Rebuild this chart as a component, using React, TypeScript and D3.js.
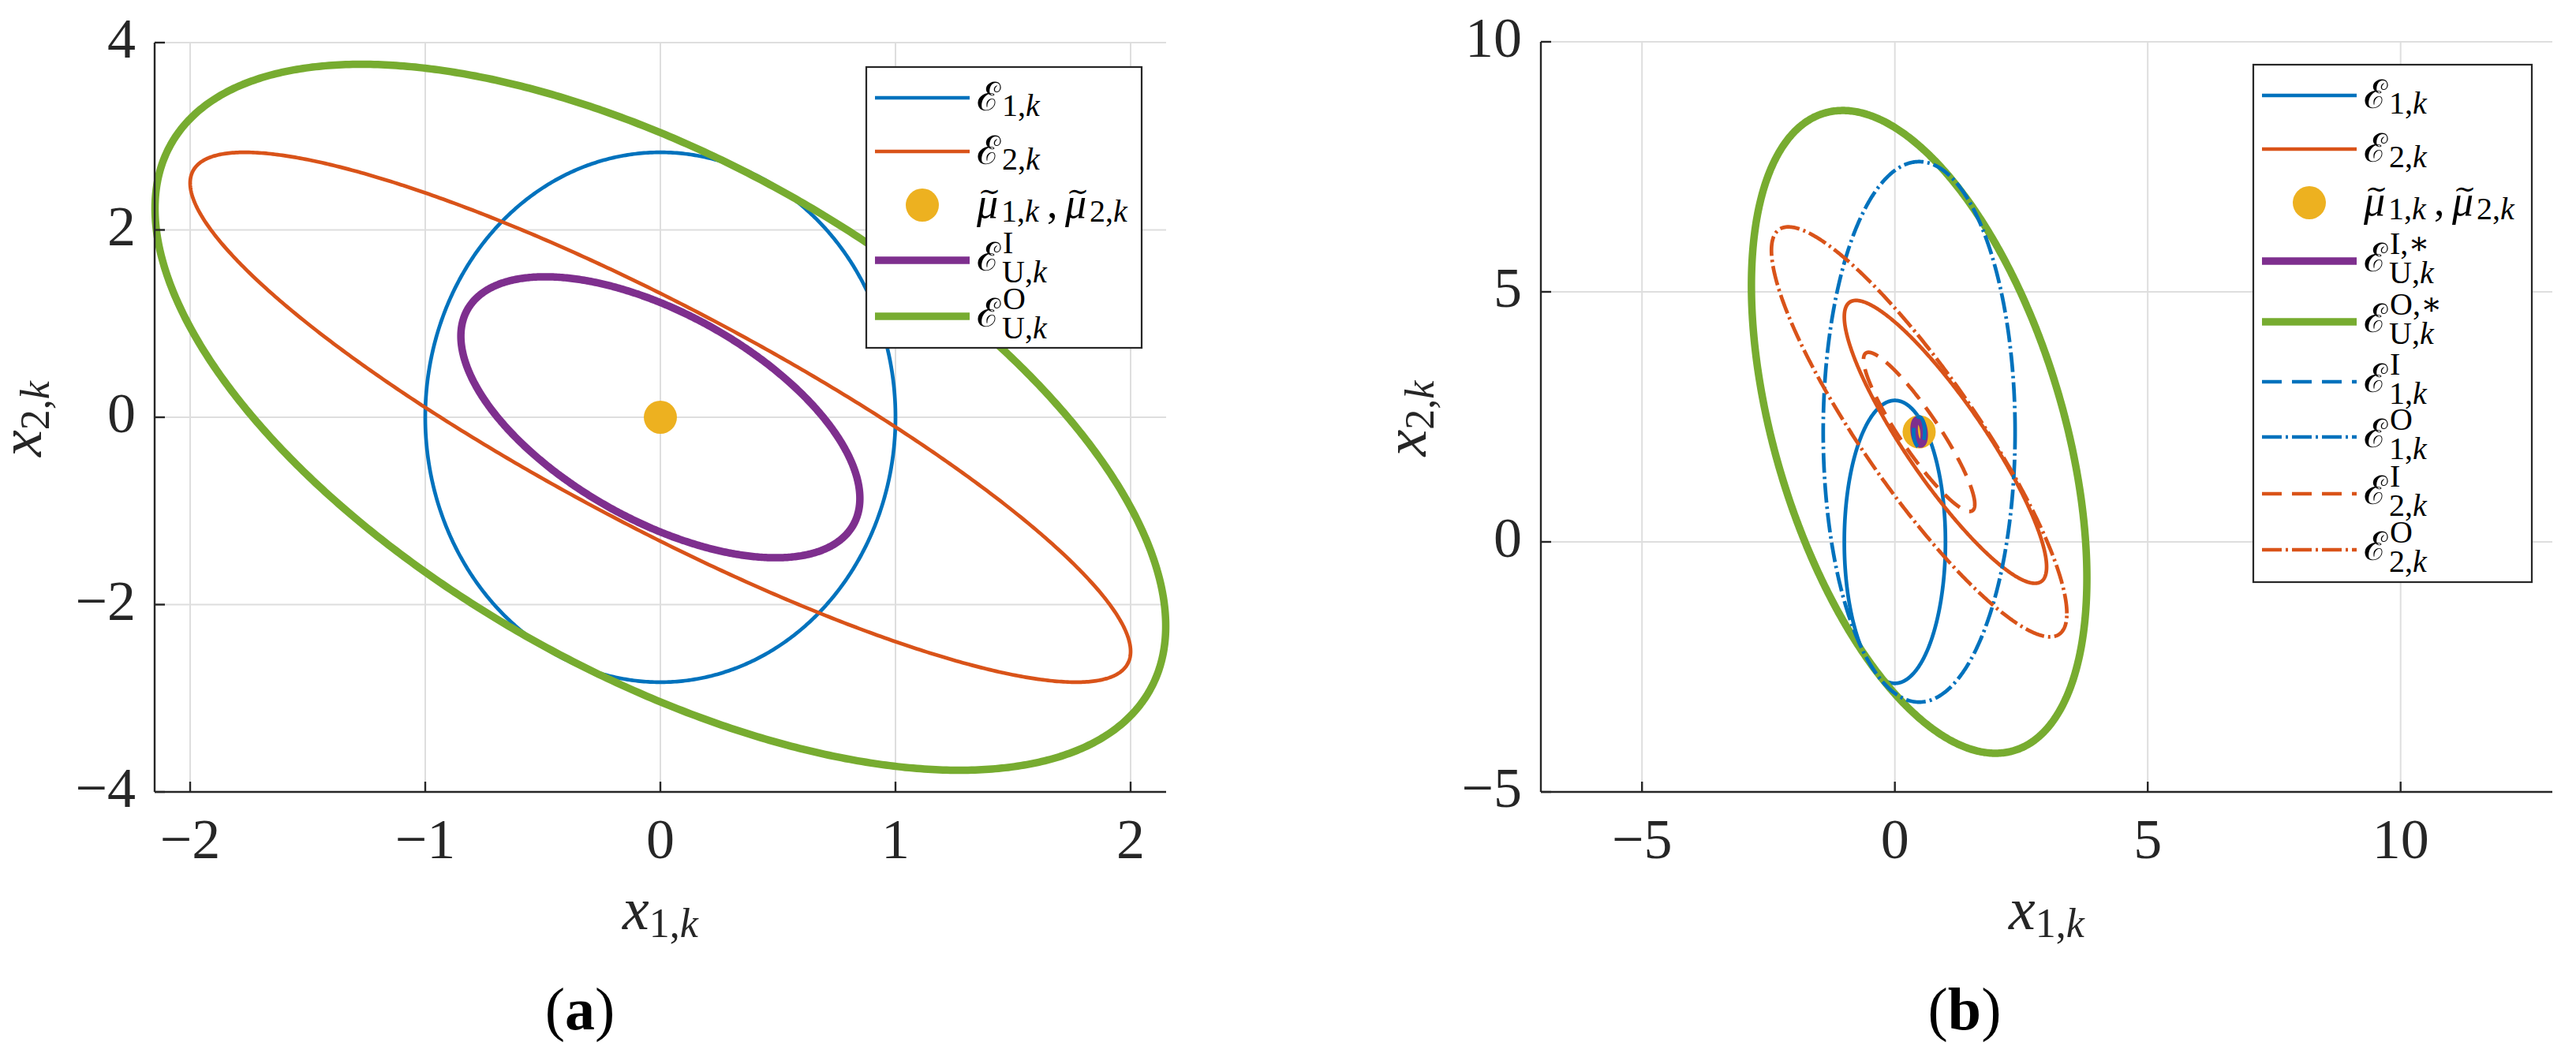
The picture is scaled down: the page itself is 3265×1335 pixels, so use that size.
import React from "react";
import * as d3 from "d3";

const W = 3265;
const H = 1335;

const BLUE = "#0072BD";
const ORANGE = "#D95319";
const YELLOW = "#EDB120";
const PURPLE = "#7E2F8E";
const GREEN = "#77AC30";
const INK = "#262626";
const GRID = "#dedede";
const SERIF = "'Liberation Serif', 'DejaVu Serif', serif";
const SCRIPT = "'DejaVu Serif', serif";

// ---- panel (a) ----
const xTicksA = [-2, -1, 0, 1, 2];
const yTicksA = [-4, -2, 0, 2, 4];
const xLimA = [-2.151, 2.151];
const yLimA = [-4, 4];
const centerA = [0, 0];
// shape matrices as [p11, p12, p22]
const shapeE1A = [1, 0, 8];
const shapeE2A = [4, -5, 8];
const shapeUIA = [0.72, -0.735, 2.25];
const shapeUOA = [4.62, -4.79, 14.2];

// ---- panel (b) ----
const xTicksB = [-5, 0, 5, 10];
const yTicksB = [-5, 0, 5, 10];
const xLimB = [-7, 13];
const yLimB = [-5, 10];
const centerE1B = [0, 0];
const centerE2B = [1, 2];
const centerFusedB = [0.48, 2.2];
const shapeE1B = [1, 0, 8];
const shapeE2B = [4, -5, 8];
const shapeUIB = [0.01, -0.006, 0.06];
const shapeUOB = [11.0, -9.7, 41.3];
const shapeE1IB = [0.012, 0, 0.09];
const shapeE1OB = [3.6, 0, 29.2];
const shapeE2IB = [1.21, -1.59, 2.53];
const shapeE2OB = [8.53, -10.6, 16.8];

const labelsA = [
  { sub: "1" },
  { sub: "2" },
  { mu: ["1", "2"] },
  { sub: "U", sup: "I" },
  { sub: "U", sup: "O" },
];
const labelsB = [
  { sub: "1" },
  { sub: "2" },
  { mu: ["1", "2"] },
  { sub: "U", sup: "I,\u2217" },
  { sub: "U", sup: "O,\u2217" },
  { sub: "1", sup: "I" },
  { sub: "1", sup: "O" },
  { sub: "2", sup: "I" },
  { sub: "2", sup: "O" },
];

const THIN = 4.7;
const THICK = 9.5;
const DASH = "25 13";
const DASHDOT = "25 5 3 5";

const itemsA = [
  { type: "ellipse", center: centerA, shape: shapeE1A, color: BLUE, width: THIN },
  { type: "ellipse", center: centerA, shape: shapeE2A, color: ORANGE, width: THIN },
  { type: "dot", center: centerA, color: YELLOW },
  { type: "ellipse", center: centerA, shape: shapeUIA, color: PURPLE, width: THICK },
  { type: "ellipse", center: centerA, shape: shapeUOA, color: GREEN, width: THICK },
];

const itemsB = [
  { type: "ellipse", center: centerE1B, shape: shapeE1B, color: BLUE, width: THIN },
  { type: "ellipse", center: centerE2B, shape: shapeE2B, color: ORANGE, width: THIN },
  { type: "dot", center: centerFusedB, color: YELLOW },
  { type: "ellipse", center: centerFusedB, shape: shapeUIB, color: PURPLE, width: THICK },
  { type: "ellipse", center: centerFusedB, shape: shapeUOB, color: GREEN, width: THICK },
  { type: "ellipse", center: centerFusedB, shape: shapeE1IB, color: BLUE, width: THIN, dash: DASH },
  { type: "ellipse", center: centerFusedB, shape: shapeE1OB, color: BLUE, width: THIN, dash: DASHDOT },
  { type: "ellipse", center: centerFusedB, shape: shapeE2IB, color: ORANGE, width: THIN, dash: DASH },
  { type: "ellipse", center: centerFusedB, shape: shapeE2OB, color: ORANGE, width: THIN, dash: DASHDOT },
];

const angles = d3.range(0, 721).map((i) => (i / 720) * 2 * Math.PI);

function outline(center, shape) {
  const [p11, p12, p22] = shape;
  const l11 = Math.sqrt(p11);
  const l21 = p12 / l11;
  const l22 = Math.sqrt(Math.max(p22 - l21 * l21, 0));
  return angles.map((t) => [
    center[0] + l11 * Math.cos(t),
    center[1] + l21 * Math.cos(t) + l22 * Math.sin(t),
  ]);
}

const fmt = (v) => (v < 0 ? "\u2212" + Math.abs(v) : String(v));

function MuTerm({ x, base, idx }) {
  return (
    <g>
      <text x={x} y={base} fontFamily={SERIF} fontSize={54} fontStyle="italic">
        {"\u03bc"}
      </text>
      <text x={x + 16} y={base - 22} textAnchor="middle" fontFamily={SERIF} fontSize={34}>
        {"\u223c"}
      </text>
      <text x={x + 31} y={base + 5} fontFamily={SERIF} fontSize={40}>
        {idx},<tspan fontStyle="italic">k</tspan>
      </text>
    </g>
  );
}

function ELabel({ x, y, label }) {
  if (label.mu) {
    const base = y + 16;
    return (
      <g fill="#000">
        <MuTerm x={x} base={base} idx={label.mu[0]} />
        <text x={x + 89} y={base} fontFamily={SERIF} fontSize={54}>
          ,
        </text>
        <MuTerm x={x + 112} base={base} idx={label.mu[1]} />
      </g>
    );
  }
  const base = label.sup ? y + 13 : y + 16;
  return (
    <g fill="#000">
      <text x={x} y={base} fontFamily={SCRIPT} fontSize={50}>
        {"\u2130"}
      </text>
      {label.sup && (
        <text x={x + 33} y={base - 22} fontFamily={SERIF} fontSize={40}>
          {label.sup}
        </text>
      )}
      <text x={x + 32} y={label.sup ? base + 15 : base + 7} fontFamily={SERIF} fontSize={40}>
        {label.sub},<tspan fontStyle="italic">k</tspan>
      </text>
    </g>
  );
}

function Legend({ box, rows, items, labels }) {
  return (
    <g>
      <rect x={box.x} y={box.y} width={box.w} height={box.h} fill="#fff" stroke={INK} strokeWidth={2.2} />
      {items.map((it, i) => {
        const yy = box.y + rows[i];
        const x0 = box.x + 11;
        const x1 = box.x + 131;
        return (
          <g key={i}>
            {it.type === "dot" ? (
              <circle cx={(x0 + x1) / 2} cy={yy} r={21} fill={it.color} />
            ) : (
              <line x1={x0} x2={x1} y1={yy} y2={yy} stroke={it.color} strokeWidth={it.width} strokeDasharray={it.dash || null} />
            )}
            <ELabel x={x1 + 9} y={yy} label={labels[i]} />
          </g>
        );
      })}
    </g>
  );
}

function Panel({ frame, xLim, yLim, xTicks, yTicks, items, labels, legendBox, legendRows, yLabelX, captionX, caption }) {
  const x = d3.scaleLinear().domain(xLim).range([frame.left, frame.right]);
  const y = d3.scaleLinear().domain(yLim).range([frame.bottom, frame.top]);
  const path = d3
    .line()
    .x((d) => x(d[0]))
    .y((d) => y(d[1]))
    .curve(d3.curveLinearClosed);
  const midX = (frame.left + frame.right) / 2;
  const midY = (frame.top + frame.bottom) / 2;

  return (
    <g>
      {/* grid */}
      {xTicks.map((t) => (
        <line key={"gx" + t} x1={x(t)} x2={x(t)} y1={frame.top} y2={frame.bottom} stroke={GRID} strokeWidth={2} />
      ))}
      {yTicks.map((t) => (
        <line key={"gy" + t} x1={frame.left} x2={frame.right} y1={y(t)} y2={y(t)} stroke={GRID} strokeWidth={2} />
      ))}

      {/* data */}
      {items.map((it, i) =>
        it.type === "dot" ? (
          <circle key={i} cx={x(it.center[0])} cy={y(it.center[1])} r={21} fill={it.color} />
        ) : (
          <path
            key={i}
            d={path(outline(it.center, it.shape))}
            fill="none"
            stroke={it.color}
            strokeWidth={it.width}
            strokeDasharray={it.dash || null}
            strokeLinejoin="round"
          />
        )
      )}

      {/* axes */}
      <line x1={frame.left} x2={frame.left} y1={frame.top} y2={frame.bottom} stroke={INK} strokeWidth={2.4} />
      <line x1={frame.left} x2={frame.right} y1={frame.bottom} y2={frame.bottom} stroke={INK} strokeWidth={2.4} />
      {xTicks.map((t) => (
        <g key={"tx" + t}>
          <line x1={x(t)} x2={x(t)} y1={frame.bottom} y2={frame.bottom - 13} stroke={INK} strokeWidth={2.4} />
          <text x={x(t)} y={frame.bottom + 84} textAnchor="middle" fontFamily={SERIF} fontSize={72} fill={INK}>
            {fmt(t)}
          </text>
        </g>
      ))}
      {yTicks.map((t) => (
        <g key={"ty" + t}>
          <line x1={frame.left} x2={frame.left + 13} y1={y(t)} y2={y(t)} stroke={INK} strokeWidth={2.4} />
          <text x={frame.left - 24} y={y(t) + 19} textAnchor="end" fontFamily={SERIF} fontSize={72} fill={INK}>
            {fmt(t)}
          </text>
        </g>
      ))}

      {/* axis labels */}
      <text x={midX} y={1178} textAnchor="middle" fontFamily={SERIF} fontSize={76} fill={INK}>
        <tspan fontStyle="italic">x</tspan>
        <tspan fontSize={52} dy={10}>
          1,<tspan fontStyle="italic">k</tspan>
        </tspan>
      </text>
      <text transform={`translate(${yLabelX},${midY + 2}) rotate(-90)`} textAnchor="middle" fontFamily={SERIF} fontSize={76} fill={INK}>
        <tspan fontStyle="italic">x</tspan>
        <tspan fontSize={52} dy={10}>
          2,<tspan fontStyle="italic">k</tspan>
        </tspan>
      </text>

      <Legend box={legendBox} rows={legendRows} items={items} labels={labels} />

      <text x={captionX} y={1305} textAnchor="middle" fontFamily={SERIF} fontSize={76} fill="#000">
        (<tspan fontWeight="bold">{caption}</tspan>)
      </text>
    </g>
  );
}

export default function App() {
  return (
    <svg width={W} height={H} style={{ position: "absolute", left: 0, top: 0, background: "#fff" }}>
      <rect width={W} height={H} fill="#fff" />
      <Panel
        frame={{ left: 196, right: 1478, top: 54, bottom: 1004 }}
        xLim={xLimA}
        yLim={yLimA}
        xTicks={xTicksA}
        yTicks={yTicksA}
        items={itemsA}
        labels={labelsA}
        legendBox={{ x: 1098, y: 85, w: 349, h: 356 }}
        legendRows={[39, 107, 175, 245, 316]}
        yLabelX={52}
        captionX={735}
        caption="a"
      />
      <Panel
        frame={{ left: 1953, right: 3235, top: 53, bottom: 1004 }}
        xLim={xLimB}
        yLim={yLimB}
        xTicks={xTicksB}
        yTicks={yTicksB}
        items={itemsB}
        labels={labelsB}
        legendBox={{ x: 2856, y: 82, w: 353, h: 656 }}
        legendRows={[39, 107, 175, 249, 326, 402, 472, 544, 615]}
        yLabelX={1807}
        captionX={2490}
        caption="b"
      />
    </svg>
  );
}
